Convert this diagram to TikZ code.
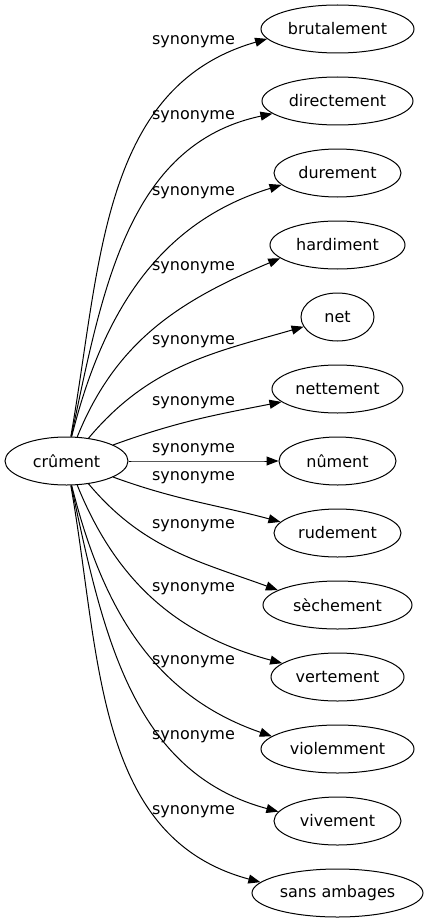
\documentclass[tikz,border=0pt]{standalone}
\usepackage{fontspec}
\setmainfont{DejaVu Sans}
\usetikzlibrary{shapes.geometric}
\usetikzlibrary{arrows.meta}
\tikzset{
    word/.style={draw,ellipse,line width=1pt,minimum height=48pt,inner sep=0pt,font=\fontsize{16}{19}\selectfont},
    synonym/.style={-{Triangle[length=12pt,width=9pt]},line width=1pt},
    synonym label/.style={inner sep=0pt,font=\fontsize{16}{19}\selectfont},
}

\begin{document}
\begin{tikzpicture}[x=1pt,y=1pt]
\useasboundingbox (0,0) rectangle (428,-923);
% the word and its synonyms
\node[word,minimum width=123pt] (crument) at (66.5,-461) {crûment};
\node[word,minimum width=153pt] (brutalement) at (337.5,-29) {brutalement};
\node[word,minimum width=151pt] (directement) at (337.5,-101) {directement};
\node[word,minimum width=127pt] (durement) at (337.5,-173) {durement};
\node[word,minimum width=135pt] (hardiment) at (337.5,-245) {hardiment};
\node[word,minimum width=73pt] (net) at (337.5,-317) {net};
\node[word,minimum width=131pt] (nettement) at (337.5,-389) {nettement};
\node[word,minimum width=117pt] (nument) at (337.5,-461) {nûment};
\node[word,minimum width=127pt] (rudement) at (337.5,-533) {rudement};
\node[word,minimum width=149pt] (sechement) at (337.5,-605) {sèchement};
\node[word,minimum width=133pt] (vertement) at (337.5,-677) {vertement};
\node[word,minimum width=153pt] (violemment) at (337.5,-749) {violemment};
\node[word,minimum width=127pt] (vivement) at (337.5,-821) {vivement};
\node[word,minimum width=171pt] (ambages) at (337.5,-893) {sans ambages};
% edges
\draw[synonym] (crument.80) to[out=80,in=196] (brutalement.188);
\draw[synonym] (crument.79) to[out=78,in=192] (directement.191);
\draw[synonym] (crument.78) to[out=76,in=197] (durement.192);
\draw[synonym] (crument.66) to[out=68,in=203] (hardiment.193);
\draw[synonym] (crument.46) to[out=50,in=196] (net.196);
\draw[synonym] (crument.19) to[out=20,in=191] (nettement.193);
\draw[synonym] (crument.0) to[out=0,in=180] (nument.180);
\draw[synonym] (crument.-19) to[out=-20,in=165] (rudement.169);
\draw[synonym] (crument.-46) to[out=-50,in=160] (sechement.166);
\draw[synonym] (crument.-66) to[out=-68,in=165] (vertement.166);
\draw[synonym] (crument.-78) to[out=-76,in=161] (violemment.169);
\draw[synonym] (crument.-79) to[out=-78,in=165] (vivement.171);
\draw[synonym] (crument.-80) to[out=-80,in=165] (ambages.172);
% labels
\node[synonym label] (l1) at (193.5,-42) {synonyme};
\node[synonym label] (l2) at (193.5,-117) {synonyme};
\node[synonym label] (l3) at (193.5,-193) {synonyme};
\node[synonym label] (l4) at (193.5,-268) {synonyme};
\node[synonym label] (l5) at (193.5,-342) {synonyme};
\node[synonym label] (l6) at (193.5,-403) {synonyme};
\node[synonym label] (l7) at (193.5,-450) {synonyme};
\node[synonym label] (l8) at (193.5,-478) {synonyme};
\node[synonym label] (l9) at (193.5,-526) {synonyme};
\node[synonym label] (l10) at (193.5,-589) {synonyme};
\node[synonym label] (l11) at (193.5,-662) {synonyme};
\node[synonym label] (l12) at (193.5,-737) {synonyme};
\node[synonym label] (l13) at (193.5,-812) {synonyme};
\end{tikzpicture}
\end{document}
